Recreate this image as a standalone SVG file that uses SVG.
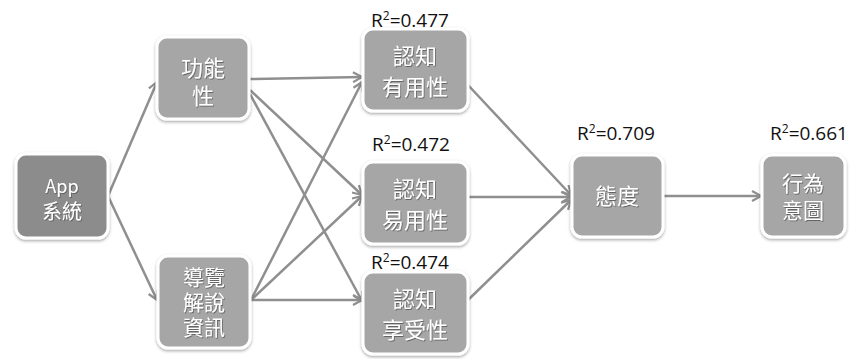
<svg xmlns="http://www.w3.org/2000/svg" width="853" height="359" viewBox="0 0 853 359">
<style>
.box{fill:#a6a6a6;stroke:#ffffff;stroke-width:3;filter:url(#sh)}
.dark{fill:#8c8c8c}
.t{font-family:"Noto Sans CJK TC","Noto Sans CJK SC",sans-serif;font-size:22px;fill:#ffffff;text-anchor:middle;filter:url(#tsh)}
.s{font-size:21px}
.r{font-family:"Open Sans","Liberation Sans",sans-serif;font-size:19px;fill:#111111;text-anchor:middle}
.c{stroke:#8f8f8f;stroke-width:2.5;fill:none;marker-end:url(#ah)}
</style>
<defs>
<filter id="sh" x="-20%" y="-20%" width="140%" height="140%">
<feDropShadow dx="0" dy="1.5" stdDeviation="1.5" flood-color="#000" flood-opacity="0.35"/>
</filter>
<filter id="tsh" x="-20%" y="-20%" width="140%" height="140%">
<feDropShadow dx="0.8" dy="1" stdDeviation="0.6" flood-color="#555" flood-opacity="0.8"/>
</filter>
<marker id="ah" viewBox="0 0 12 12" refX="10" refY="6" markerWidth="12" markerHeight="12" markerUnits="userSpaceOnUse" orient="auto">
<path d="M1,1 L10,6 L1,11" fill="none" stroke="#8f8f8f" stroke-width="2.2"/>
</marker>
</defs>
<rect width="853" height="359" fill="#ffffff"/>
<g id="connectors">
<line class="c" x1="108" y1="196" x2="157" y2="82"/>
<line class="c" x1="108" y1="196" x2="157" y2="300"/>
<line class="c" x1="250" y1="79" x2="362" y2="77"/>
<line class="c" x1="250" y1="90" x2="362" y2="195"/>
<line class="c" x1="250" y1="94" x2="362" y2="301"/>
<line class="c" x1="251" y1="300" x2="362" y2="82"/>
<line class="c" x1="251" y1="300" x2="362" y2="196"/>
<line class="c" x1="251" y1="300" x2="362" y2="300"/>
<line class="c" x1="468" y1="85" x2="571" y2="195"/>
<line class="c" x1="468" y1="197" x2="571" y2="197"/>
<line class="c" x1="468" y1="300" x2="571" y2="200"/>
<line class="c" x1="663" y1="196" x2="761" y2="196"/>
</g>
<g id="app">
<rect class="box dark" x="16" y="154" width="92" height="84" rx="10"/>
<text class="t" x="62" y="193" style="font-size:18px">App</text>
<text class="t" x="62" y="219" style="font-size:20px">系統</text>
</g>
<g id="func">
<rect class="box" x="157" y="37" width="92" height="82" rx="10"/>
<text class="t" x="203" y="76">功能</text>
<text class="t" x="203" y="104">性</text>
</g>
<g id="guide">
<rect class="box" x="158" y="256" width="92" height="92" rx="10"/>
<text class="t s" x="204" y="285">導覽</text>
<text class="t s" x="204" y="310">解說</text>
<text class="t s" x="204" y="335">資訊</text>
</g>
<g id="useful">
<rect class="box" x="363" y="29" width="105" height="82" rx="10"/>
<text class="t" x="415" y="64">認知</text>
<text class="t" x="415" y="95">有用性</text>
<text class="r" x="410" y="27">R<tspan dy="-7" font-size="12">2</tspan><tspan dy="7">=0.477</tspan></text>
</g>
<g id="ease">
<rect class="box" x="363" y="162" width="105" height="82" rx="10"/>
<text class="t" x="415" y="197">認知</text>
<text class="t" x="415" y="228">易用性</text>
<text class="r" x="411" y="151">R<tspan dy="-7" font-size="12">2</tspan><tspan dy="7">=0.472</tspan></text>
</g>
<g id="enjoy">
<rect class="box" x="363" y="272" width="105" height="82" rx="10"/>
<text class="t" x="415" y="307">認知</text>
<text class="t" x="415" y="338">享受性</text>
<text class="r" x="410" y="269">R<tspan dy="-7" font-size="12">2</tspan><tspan dy="7">=0.474</tspan></text>
</g>
<g id="attitude">
<rect class="box" x="572" y="155" width="91" height="82" rx="10"/>
<text class="t" x="617" y="204">態度</text>
<text class="r" x="616" y="140">R<tspan dy="-7" font-size="12">2</tspan><tspan dy="7">=0.709</tspan></text>
</g>
<g id="intent">
<rect class="box" x="762" y="155" width="83" height="82" rx="10"/>
<text class="t s" x="803" y="191">行為</text>
<text class="t s" x="803" y="218">意圖</text>
<text class="r" x="809" y="140">R<tspan dy="-7" font-size="12">2</tspan><tspan dy="7">=0.661</tspan></text>
</g>
</svg>
